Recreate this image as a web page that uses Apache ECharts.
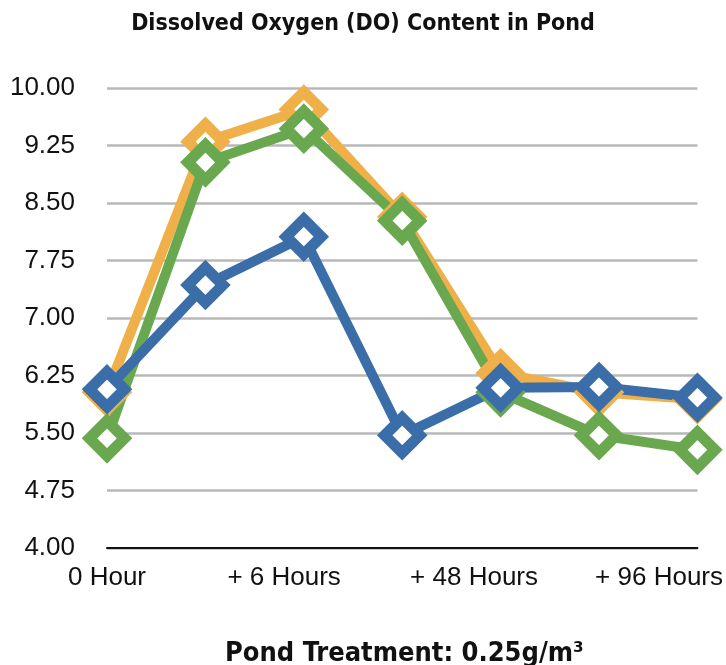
<!DOCTYPE html>
<html>
<head>
<meta charset="utf-8">
<script src="https://cdn.jsdelivr.net/npm/echarts@6/dist/echarts.min.js"></script>
<style>
  html, body { margin: 0; padding: 0; background: #fff; }
  #chart { width: 726px; height: 665px; }
</style>
</head>
<body>
<div id="chart"></div>
<script>
// sample points along the x axis (only some are labelled in the original)
var categories = ['0 Hour', '', '+ 6 Hours', '', '+ 48 Hours', '', '+ 96 Hours'];
var tickLabels = ['0 Hour', '+ 6 Hours', '+ 48 Hours', '+ 96 Hours'];

var orangeVals = [6.03, 9.30, 9.72, 8.32, 6.28, 6.03, 5.94];
var greenVals  = [5.43, 9.03, 9.47, 8.27, 6.03, 5.47, 5.28];
var blueVals   = [6.07, 7.43, 8.06, 5.47, 6.09, 6.10, 5.96];

var chart = echarts.init(document.getElementById('chart'));

function lineSeries(name, data, color){
	return {
		name: name,
		type: 'line',
		data: data,
		symbol: 'diamond',
		symbolSize: 35,
		lineStyle: { color: color, width: 10 },
		itemStyle: { color: '#fff', borderColor: color, borderWidth: 11 },
		emphasis: { disabled: true }
	};
}

var labelSpots = [0, 1.8, 3.73, 5.61];

var option = {
	animation: false,
	title: [{
		text: 'Dissolved Oxygen (DO) Content in Pond',
		left: 'center',
		top: 8,
		textStyle: { fontFamily: 'DejaVu Sans Condensed', fontWeight: 'bold', fontSize: 23, color: '#111' }
	}, {
		text: 'Pond Treatment: 0.25g/m³',
		left: 220,
		top: 635,
		textStyle: { fontFamily: 'DejaVu Sans Condensed', fontWeight: 'bold', fontSize: 27, color: '#111' }
	}],
	grid: { left: 107, right: 26, top: 88, bottom: 117 },
	xAxis: [{
		type: 'category',
		data: categories,
		boundaryGap: false,
		axisLine: { lineStyle: { color: '#111', width: 2 } },
		axisTick: { show: false },
		axisLabel: { show: false },
		splitLine: { show: false }
	}, {
		type: 'value',
		min: 0,
		max: 6,
		position: 'bottom',
		axisLine: { show: false },
		axisTick: { show: false },
		splitLine: { show: false },
		axisLabel: {
			customValues: labelSpots,
			margin: 17,
			fontFamily: 'Liberation Sans',
			fontSize: 26,
			color: '#111',
			formatter: function(v){
				var i = labelSpots.indexOf(v);
				return i >= 0 ? tickLabels[i] : '';
			}
		}
	}],
	yAxis: {
		type: 'value',
		min: 4,
		max: 10,
		interval: 0.75,
		axisLine: { show: false },
		axisTick: { show: false },
		axisLabel: {
			margin: 32,
			fontFamily: 'Liberation Sans',
			fontSize: 26,
			color: '#111',
			formatter: function(v){ return v.toFixed(2); }
		},
		splitLine: { lineStyle: { color: '#b8b8b8', width: 2.5 } }
	},
	series: [
		lineSeries('Series 1', orangeVals, '#efb04a'),
		lineSeries('Series 2', greenVals, '#6aa84f'),
		lineSeries('Series 3', blueVals, '#3b6ea8')
	]
};

chart.setOption(option);
</script>
</body>
</html>
